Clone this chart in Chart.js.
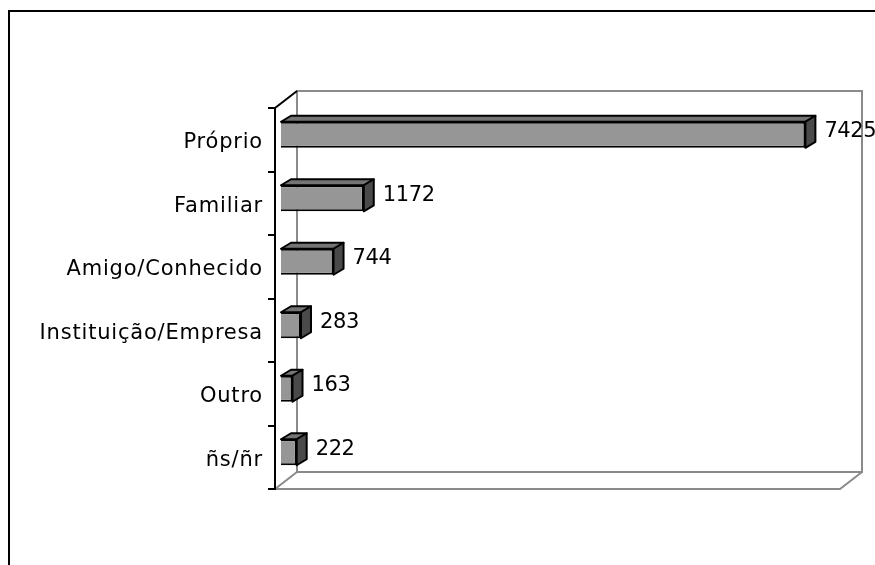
<!DOCTYPE html>
<html>
<head>
<meta charset="utf-8">
<script src="https://cdn.jsdelivr.net/npm/chart.js@4"></script>
<style>
  body { margin: 0; background: #fff; }
</style>
</head>
<body>
<canvas id="chart" width="875" height="565"></canvas>
<script>
const categories = ['Próprio', 'Familiar', 'Amigo/Conhecido', 'Instituição/Empresa', 'Outro', 'ñs/ñr'];
const values = [7425, 1172, 744, 283, 163, 222];
const xMax = 8000;

// 3d look: wall depth and bar depth
const WALL_DX = 22, WALL_DY = 17;
const BAR_SHIFT_X = 6, BAR_SHIFT_Y = -5;
const BAR_DX = 10, BAR_DY = 6;
const FONT = '"DejaVu Sans", Verdana, sans-serif';

const walls = {
  id: 'walls',
  beforeDraw(chart) {
    const { ctx, chartArea: a } = chart;
    ctx.save();
    // outer frame
    ctx.strokeStyle = '#000';
    ctx.lineWidth = 2;
    ctx.beginPath();
    ctx.moveTo(9, 565);
    ctx.lineTo(9, 11);
    ctx.lineTo(875, 11);
    ctx.stroke();

    ctx.strokeStyle = '#8a8a8a';
    ctx.lineWidth = 2;
    const bl = a.left + WALL_DX, br = a.right + WALL_DX;
    const bt = a.top - WALL_DY, bb = a.bottom - WALL_DY;
    ctx.beginPath();
    ctx.rect(bl, bt, br - bl, bb - bt);
    ctx.moveTo(a.left, a.bottom);
    ctx.lineTo(bl, bb);
    ctx.moveTo(a.left, a.bottom);
    ctx.lineTo(a.right, a.bottom);
    ctx.lineTo(br, bb);
    ctx.stroke();

    ctx.strokeStyle = '#000';
    ctx.beginPath();
    ctx.moveTo(a.left, a.top);
    ctx.lineTo(bl, bt);
    ctx.stroke();
    ctx.restore();
    // wider letters for the category labels (Verdana-like)
    ctx.letterSpacing = '0.8px';
  },
  beforeDatasetsDraw(chart) {
    chart.ctx.save();
    chart.ctx.translate(BAR_SHIFT_X, BAR_SHIFT_Y);
  },
  afterDatasetsDraw(chart) {
    const ctx = chart.ctx;
    const meta = chart.getDatasetMeta(0);
    ctx.lineWidth = 2;
    ctx.strokeStyle = '#000';
    ctx.lineJoin = 'round';
    meta.data.forEach((bar, i) => {
      const { x, y, base, height } = bar.getProps(['x', 'y', 'base', 'height'], true);
      const top = y - height / 2, bottom = y + height / 2;
      // top face
      ctx.fillStyle = '#747474';
      ctx.beginPath();
      ctx.moveTo(base, top);
      ctx.lineTo(base + BAR_DX, top - BAR_DY);
      ctx.lineTo(x + BAR_DX, top - BAR_DY);
      ctx.lineTo(x, top);
      ctx.closePath();
      ctx.fill();
      ctx.stroke();
      // side face
      ctx.fillStyle = '#4a4a4a';
      ctx.beginPath();
      ctx.moveTo(x, top);
      ctx.lineTo(x + BAR_DX, top - BAR_DY);
      ctx.lineTo(x + BAR_DX, bottom - BAR_DY);
      ctx.lineTo(x, bottom);
      ctx.closePath();
      ctx.fill();
      ctx.stroke();
      // value label
      ctx.fillStyle = '#000';
      ctx.letterSpacing = '-0.4px';
      ctx.font = '21px ' + FONT;
      ctx.textAlign = 'left';
      ctx.textBaseline = 'middle';
      ctx.fillText(String(values[i]), x + BAR_DX + 9, y - BAR_DY / 2);
    });
    ctx.restore();
  }
};

new Chart(document.getElementById('chart'), {
  type: 'bar',
  data: {
    labels: categories,
    datasets: [{
      data: values,
      backgroundColor: '#969696',
      borderColor: '#000',
      borderWidth: 2,
      barPercentage: 0.41,
      categoryPercentage: 1
    }]
  },
  options: {
    indexAxis: 'y',
    responsive: false,
    animation: false,
    layout: { padding: { top: 108, right: 35, bottom: 76, left: 0 } },
    plugins: { legend: { display: false }, tooltip: { enabled: false } },
    scales: {
      x: { display: false, min: 0, max: xMax },
      y: {
        afterFit(scale) { scale.width = 275; },
        grid: { offset: true, drawOnChartArea: false, tickLength: 7, color: '#000', lineWidth: 2 },
        border: { display: true, color: '#000', width: 2 },
        ticks: {
          color: '#000',
          padding: 5,
          labelOffset: 3,
          font: { family: FONT, size: 21 }
        }
      }
    }
  },
  plugins: [walls]
});
</script>
</body>
</html>
